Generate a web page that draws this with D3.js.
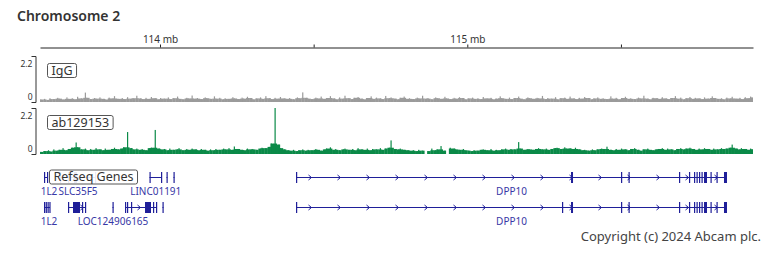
<!DOCTYPE html>
<html>
<head>
<meta charset="utf-8">
<script src="https://cdn.jsdelivr.net/npm/d3@7"></script>
<style>
  body { margin: 0; background: #fff; font-family: "Noto Sans", sans-serif; }
  svg { display: block; }
</style>
</head>
<body>
<script>
// ---- data ----
var title = 'Chromosome 2';
var viewStart = 113.6095, viewEnd = 115.9297;   // mb
var axisTicks = [114, 114.5, 115, 115.5];
var axisLabels = { 114: '114 mb', 115: '115 mb' };
var yMax = 2.2;
var yTicks = [0, 2.2];

// coverage bins, 0.01 mb each, starting at binStart
var binStart = 113.61, binSize = 0.01;
var igg = [
  0.12,0.15,0.10,0.18,0.14,0.20,0.16,0.12,0.22,0.15,0.18,0.13,0.25,0.17,0.45,0.20,0.14,0.19,0.16,0.22,
  0.15,0.12,0.21,0.17,0.28,0.15,0.19,0.14,0.23,0.16,0.18,0.30,0.17,0.14,0.20,0.15,0.24,0.18,0.13,0.19,
  0.16,0.22,0.14,0.18,0.26,0.15,0.13,0.20,0.17,0.31,0.16,0.19,0.14,0.22,0.18,0.15,0.27,0.16,0.20,0.13,
  0.18,0.15,0.23,0.17,0.14,0.21,0.16,0.25,0.19,0.13,0.17,0.22,0.15,0.28,0.18,0.14,0.20,0.16,0.24,0.17,
  0.15,0.19,0.13,0.22,0.18,0.46,0.20,0.16,0.14,0.21,0.17,0.26,0.15,0.19,0.28,0.17,0.13,0.22,0.16,0.30,
  0.18,0.14,0.20,0.24,0.16,0.13,0.19,0.27,0.15,0.21,0.17,0.14,0.29,0.18,0.22,0.16,0.13,0.20,0.26,0.15,
  0.18,0.14,0.21,0.17,0.30,0.16,0.19,0.13,0.22,0.18,0.15,0.25,0.17,0.14,0.20,0.16,0.23,0.19,0.13,0.17,
  0.21,0.15,0.18,0.14,0.24,0.17,0.20,0.13,0.16,0.27,0.18,0.15,0.21,0.14,0.19,0.26,0.16,0.13,0.22,0.18,
  0.15,0.20,0.17,0.29,0.14,0.19,0.16,0.23,0.13,0.18,0.21,0.15,0.26,0.17,0.14,0.20,0.16,0.24,0.19,0.13,
  0.17,0.22,0.15,0.18,0.14,0.27,0.16,0.20,0.13,0.19,0.25,0.15,0.18,0.14,0.21,0.17,0.30,0.16,0.13,0.20,
  0.18,0.15,0.23,0.17,0.14,0.19,0.28,0.16,0.21,0.13,0.18,0.24,0.15,0.20,0.17,0.14,0.22,0.16,0.27,0.19,
  0.15,0.18,0.13,0.21,0.17,0.25,0.16,0.20,0.14,0.23,0.18,0.26
];
var ab129153 = [
  0.10,0.14,0.18,0.12,0.22,0.16,0.20,0.28,0.18,0.24,0.30,0.55,0.32,0.22,0.26,0.18,0.24,0.20,0.28,0.22,
  0.18,0.26,0.20,0.24,0.30,0.22,0.26,0.32,1.05,0.28,0.22,0.26,0.20,0.24,0.18,0.28,0.30,1.15,0.26,0.22,
  0.24,0.18,0.26,0.20,0.22,0.28,0.18,0.24,0.20,0.26,0.22,0.18,0.24,0.20,0.16,0.22,0.18,0.24,0.20,0.26,
  0.22,0.28,0.20,0.36,0.24,0.20,0.18,0.26,0.22,0.24,0.20,0.26,0.30,0.28,0.34,0.50,2.25,0.45,0.28,0.22,
  0.18,0.16,0.20,0.14,0.18,0.22,0.16,0.20,0.18,0.24,0.20,0.16,0.22,0.26,0.32,0.20,0.24,0.18,0.22,0.26,
  0.20,0.24,0.18,0.28,0.22,0.20,0.26,0.18,0.24,0.22,0.28,0.20,0.26,0.30,0.65,0.24,0.22,0.26,0.20,0.18,
  0.16,0.18,0.14,0.20,0.16,0.00,0.14,0.26,0.18,0.22,0.38,0.16,0.00,0.30,0.26,0.22,0.20,0.24,0.18,0.16,
  0.14,0.18,0.16,0.20,0.22,0.18,0.24,0.16,0.20,0.18,0.22,0.26,0.20,0.24,0.22,0.57,0.26,0.20,0.24,0.22,
  0.20,0.24,0.28,0.22,0.26,0.20,0.24,0.28,0.30,0.24,0.32,0.26,0.28,0.24,0.30,0.22,0.18,0.20,0.16,0.22,
  0.18,0.22,0.26,0.24,0.35,0.20,0.18,0.24,0.20,0.26,0.22,0.18,0.24,0.28,0.20,0.16,0.22,0.26,0.20,0.18,
  0.22,0.24,0.28,0.20,0.26,0.22,0.18,0.24,0.28,0.22,0.26,0.30,0.24,0.20,0.26,0.22,0.28,0.24,0.20,0.26,
  0.22,0.28,0.24,0.26,0.30,0.45,0.26,0.22,0.28,0.24,0.20,0.26
];
var trackNames = ['IgG', 'ab129153'];
var trackData = [igg, ab129153];
var trackColors = ['#9b9b9b', '#0b8a48'];

// refseq genes (mb), row 0 / row 1
var genes = [
  { name: '1L2', row: 0, start: 113.6225, end: 113.6355, label: true,
    exons: [[113.6225,113.6235],[113.6323,113.6355]] },
  { name: 'SLC35F5', row: 0, start: 113.6746, end: 113.7917, label: true,
    exons: [[113.6746,113.6770],[113.7006,113.7039],[113.7201,113.7300],[113.7885,113.7917]] },
  { name: 'LINC01191', row: 0, start: 113.9658, end: 114.0065, label: true,
    exons: [[113.9658,113.9668],[114.0033,114.0065]] },
  { name: '', row: 0, start: 114.0212, end: 114.0244, label: false,
    exons: [[114.0212,114.0244]] },
  { name: '', row: 0, start: 114.0439, end: 114.0472, label: false,
    exons: [[114.0439,114.0472]] },
  { name: 'DPP10', row: 0, start: 114.4426, end: 115.8451, label: true,
    exons: [[114.4426,114.4458],[115.3375,115.3440],[115.5002,115.5034],[115.5246,115.5278],
            [115.6889,115.6922],[115.7214,115.7247],[115.7377,115.7410],[115.7459,115.7491],
            [115.7540,115.7572],[115.7621,115.7654],[115.7703,115.7800],[115.7914,115.7947],
            [115.8109,115.8142],[115.8353,115.8451]] },
  { name: '1L2', row: 1, start: 113.6225, end: 113.6420, label: true,
    exons: [[113.6225,113.6235],[113.6280,113.6295],[113.6340,113.6355],[113.6400,113.6420]] },
  { name: '', row: 1, start: 113.7006, end: 113.7592, label: false,
    exons: [[113.7006,113.7016],[113.7169,113.7397],[113.7462,113.7494],[113.7559,113.7592]] },
  { name: 'LOC124906165', row: 1, start: 113.8454, end: 113.8487, label: true,
    exons: [[113.8454,113.8487]] },
  { name: '', row: 1, start: 113.8861, end: 113.9902, label: false,
    exons: [[113.8861,113.8877],[113.8926,113.8940],[113.9056,113.9089],[113.9512,113.9707],
            [113.9772,113.9805],[113.9870,113.9902]] },
  { name: '', row: 1, start: 114.0081, end: 114.0114, label: false,
    exons: [[114.0081,114.0114]] },
  { name: 'DPP10', row: 1, start: 114.4426, end: 115.8451, label: true,
    exons: [[114.4426,114.4458],[115.3082,115.3114],[115.3375,115.3440],[115.5002,115.5034],[115.5246,115.5278],
            [115.6889,115.6922],[115.7214,115.7247],[115.7377,115.7410],[115.7459,115.7491],
            [115.7540,115.7572],[115.7621,115.7654],[115.7703,115.7800],[115.7914,115.7947],
            [115.8109,115.8142],[115.8353,115.8451]] }
];
var copyright = 'Copyright (c) 2024 Abcam plc.';

// ---- layout ----
var width = 768, height = 256;
var left = 40, right = 753;
var trackTop = [56, 108], trackH = 46;
var geneRowY = [177, 207];
var geneColor = '#1f1f99', geneText = '#3737a6';

var svg = d3.select('body').append('svg')
  .attr('width', width).attr('height', height);

svg.append('defs').append('clipPath').attr('id', 'plotclip')
  .append('rect').attr('x', left).attr('y', 0).attr('width', right - left).attr('height', height);

var x = d3.scaleLinear().domain([viewStart, viewEnd]).range([left, right]);

svg.append('text')
  .attr('x', 17).attr('y', 21)
  .attr('font-size', 14).attr('font-weight', 600).attr('fill', '#333')
  .text(title);

// ruler
var ruler = svg.append('g').attr('transform', 'translate(0,47.5)')
  .call(d3.axisTop(x).tickValues(axisTicks).tickSizeInner(3).tickSizeOuter(0).tickPadding(2)
    .tickFormat(function (d) { return axisLabels[d] || ''; }));
ruler.attr('font-family', null).attr('font-size', 10);
ruler.selectAll('text').attr('fill', '#333');
ruler.selectAll('path,line').attr('stroke', '#222');

// coverage tracks: a band at the local level plus a thin spike to each bin's value
trackData.forEach(function (vals, t) {
  var top = trackTop[t], bottom = top + trackH;
  var y = d3.scaleLinear().domain([0, yMax]).range([bottom, top]).clamp(true);
  var bw = x(binStart + binSize) - x(binStart);
  var band = vals.map(function (v, i) {
    var nb = [vals[i - 1], v, vals[i + 1]].filter(function (d) { return d !== undefined; });
    return v === 0 ? 0 : Math.min(v, d3.median(nb));
  });

  var g = svg.append('g').attr('clip-path', 'url(#plotclip)').attr('fill', trackColors[t]);
  g.selectAll('rect.band').data(band).join('rect').attr('class', 'band')
    .attr('x', function (d, i) { return x(binStart + i * binSize); })
    .attr('width', bw + 0.3)
    .attr('y', function (d) { return y(d); })
    .attr('height', function (d) { return bottom - y(d); });
  g.selectAll('rect.spike').data(vals).join('rect').attr('class', 'spike')
    .attr('x', function (d, i) { return x(binStart + i * binSize) + (i % 3) * 0.8; })
    .attr('width', 1.2)
    .attr('y', function (d) { return y(d); })
    .attr('height', function (d) { return bottom - y(d); });

  var ax = svg.append('g').attr('transform', 'translate(35.5,0)')
    .call(d3.axisLeft(y).tickValues(yTicks).tickSizeInner(0).tickSizeOuter(4).tickPadding(3)
      .tickFormat(function (d) { return d === 0 ? '0' : '2.2'; }));
  ax.attr('font-family', null).attr('font-size', 8.5);
  ax.select('.domain').attr('stroke', '#333');
  ax.selectAll('text').attr('fill', '#333')
    .attr('dy', function (d) { return d === 0 ? '-0.27em' : '1.2em'; });

  var lab = svg.append('g').attr('transform', 'translate(47,' + (top + 7.5) + ')');
  var tx = lab.append('text').attr('x', 4.5).attr('y', 11).attr('font-size', 12.5)
    .attr('fill', '#333').text(trackNames[t]);
  var w = tx.node().getComputedTextLength();
  lab.insert('rect', 'text').attr('x', 0.5).attr('y', 0).attr('width', w + 8).attr('height', 14)
    .attr('rx', 2).attr('fill', 'rgba(255,255,255,0.85)').attr('stroke', '#555');
});

// genes
var gg = svg.append('g').attr('clip-path', 'url(#plotclip)');
genes.forEach(function (g) {
  var yc = geneRowY[g.row];
  var x0 = x(g.start), x1 = x(g.end);
  gg.append('line').attr('x1', x0).attr('x2', x1).attr('y1', yc + 0.5).attr('y2', yc + 0.5)
    .attr('stroke', geneColor).attr('stroke-width', 1);
  for (var cx = x0 + 14; cx < x1 - 4; cx += 29) {
    gg.append('path')
      .attr('d', 'M' + (cx - 1.5) + ',' + (yc - 2) + 'L' + (cx + 1.5) + ',' + (yc + 0.5) + 'L' + (cx - 1.5) + ',' + (yc + 3))
      .attr('fill', 'none').attr('stroke', geneColor).attr('stroke-width', 1);
  }
  gg.selectAll(null).data(g.exons).join('rect')
    .attr('x', function (e) { return x(e[0]); })
    .attr('width', function (e) { return Math.max(1.2, x(e[1]) - x(e[0])); })
    .attr('y', yc - 5).attr('height', 11)
    .attr('fill', geneColor);
  if (g.label) {
    gg.append('text').attr('x', Math.max((x0 + x1) / 2, 49)).attr('y', yc + 18)
      .attr('text-anchor', 'middle').attr('font-size', 10).attr('fill', geneText)
      .text(g.name);
  }
});

var rl = svg.append('g').attr('transform', 'translate(49,170)');
var rt = rl.append('text').attr('x', 4.5).attr('y', 11).attr('font-size', 12.5)
  .attr('fill', '#333').text('Refseq Genes');
var rw = rt.node().getComputedTextLength();
rl.insert('rect', 'text').attr('x', 0.5).attr('y', 0).attr('width', rw + 8).attr('height', 14)
  .attr('rx', 2).attr('fill', 'rgba(255,255,255,0.9)').attr('stroke', '#555');

svg.append('text')
  .attr('x', 761).attr('y', 241).attr('text-anchor', 'end')
  .attr('font-size', 13).attr('fill', '#444')
  .text(copyright);
</script>
</body>
</html>
